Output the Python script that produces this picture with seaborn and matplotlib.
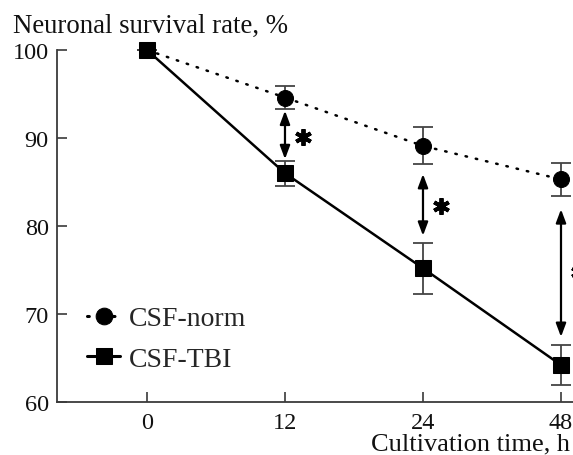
import numpy as np
import pandas as pd
import matplotlib
matplotlib.use('Agg')
import matplotlib.pyplot as plt
import seaborn as sns

# ---- data ----
times = ['0', '12', '24', '48']
series_names = ['CSF-norm', 'CSF-TBI']
norm_mean = [100.0, 94.6, 89.1, 85.3]
norm_sd = [0.0, 1.3, 2.1, 1.9]
tbi_mean = [100.0, 86.0, 75.2, 64.2]
tbi_sd = [0.0, 1.4, 2.9, 2.3]
y_ticks = [60, 70, 80, 90, 100]
# significance arrows at time points 12, 24, 48
sig_top = [93.1, 85.9, 81.9]
sig_bottom = [87.6, 78.9, 67.4]
sig_star = [90.1, 82.3, 74.8]

sns.set_style('ticks')
plt.rcParams['font.family'] = ['Liberation Serif', 'DejaVu Serif']

pos = np.arange(len(times))
df = pd.DataFrame({
    'pos': np.concatenate([pos, pos]),
    'value': norm_mean + tbi_mean,
    'sd': norm_sd + tbi_sd,
    'series': [series_names[0]] * len(times) + [series_names[1]] * len(times),
})

W, H = 573, 456
fig = plt.figure(figsize=(W / 100, H / 100), dpi=100)
ax = fig.add_axes([57 / W, (H - 403) / H, (W - 57) / W, 352 / H])

axis_col = '#3a3a3a'
err_col = '#444444'

# error bars
for name in series_names:
    sub = df[df['series'] == name]
    ax.errorbar(sub['pos'], sub['value'], yerr=sub['sd'], fmt='none',
                ecolor=err_col, elinewidth=1.3, capsize=7, capthick=1.3,
                zorder=2, clip_on=False)

sns.lineplot(data=df, x='pos', y='value', hue='series', style='series',
             palette={series_names[0]: 'black', series_names[1]: 'black'},
             markers={series_names[0]: 'o', series_names[1]: 's'},
             dashes={series_names[0]: (0.6, 3.6), series_names[1]: ''},
             markersize=11.5, markeredgecolor='black', linewidth=1.8,
             ax=ax, zorder=3, clip_on=False)
for ln in ax.lines:
    ln.set_dash_capstyle('round')
    ln.set_clip_on(False)

# significance arrows and asterisks
for i, (t, b, s) in enumerate(zip(sig_top, sig_bottom, sig_star)):
    x = pos[i + 1]
    ax.annotate('', xy=(x, b), xytext=(x, t),
                arrowprops=dict(arrowstyle='<|-|>,head_length=0.8,head_width=0.3',
                                color='black', lw=1.6, shrinkA=0, shrinkB=0),
                annotation_clip=False)
    ax.plot([x + 0.13], [s], marker=(6, 2, 0), markersize=12,
            markeredgewidth=2.8, color='black', clip_on=False, zorder=4)

ax.set_xlim(-0.652, 3.087)
ax.set_ylim(60, 100)
ax.set_xticks(pos)
ax.set_xticklabels(times)
ax.set_yticks(y_ticks)
ax.set_xlabel('')
ax.set_ylabel('')
ax.tick_params(direction='in', length=7, width=1.2, color=axis_col,
               labelsize=17.5, labelcolor='#111111')
ax.tick_params(axis='x', pad=7)
ax.tick_params(axis='y', pad=6)
for sp in ['top', 'right']:
    ax.spines[sp].set_visible(False)
for sp in ['left', 'bottom']:
    ax.spines[sp].set_color(axis_col)
    ax.spines[sp].set_linewidth(1.3)

handles, labels = ax.get_legend_handles_labels()
for h in handles:
    h.set_markersize(12)
    h.set_linewidth(2.2)
leg = ax.legend(handles, labels, loc='upper left',
                bbox_to_anchor=((87 - 57) / 516, (403 - 307) / 352),
                frameon=False, fontsize=20, handlelength=1.2,
                handletextpad=0.3, labelspacing=0.55, borderpad=0,
                borderaxespad=0)

fig.text(13 / W, 1 - 33 / H, 'Neuronal survival rate, %', fontsize=19.3,
         ha='left', va='baseline', color='#111111')
fig.text(0.995, 1 - 450 / H, 'Cultivation time, h', fontsize=19,
         ha='right', va='baseline', color='#111111')

fig.savefig('out.png', dpi=100)
